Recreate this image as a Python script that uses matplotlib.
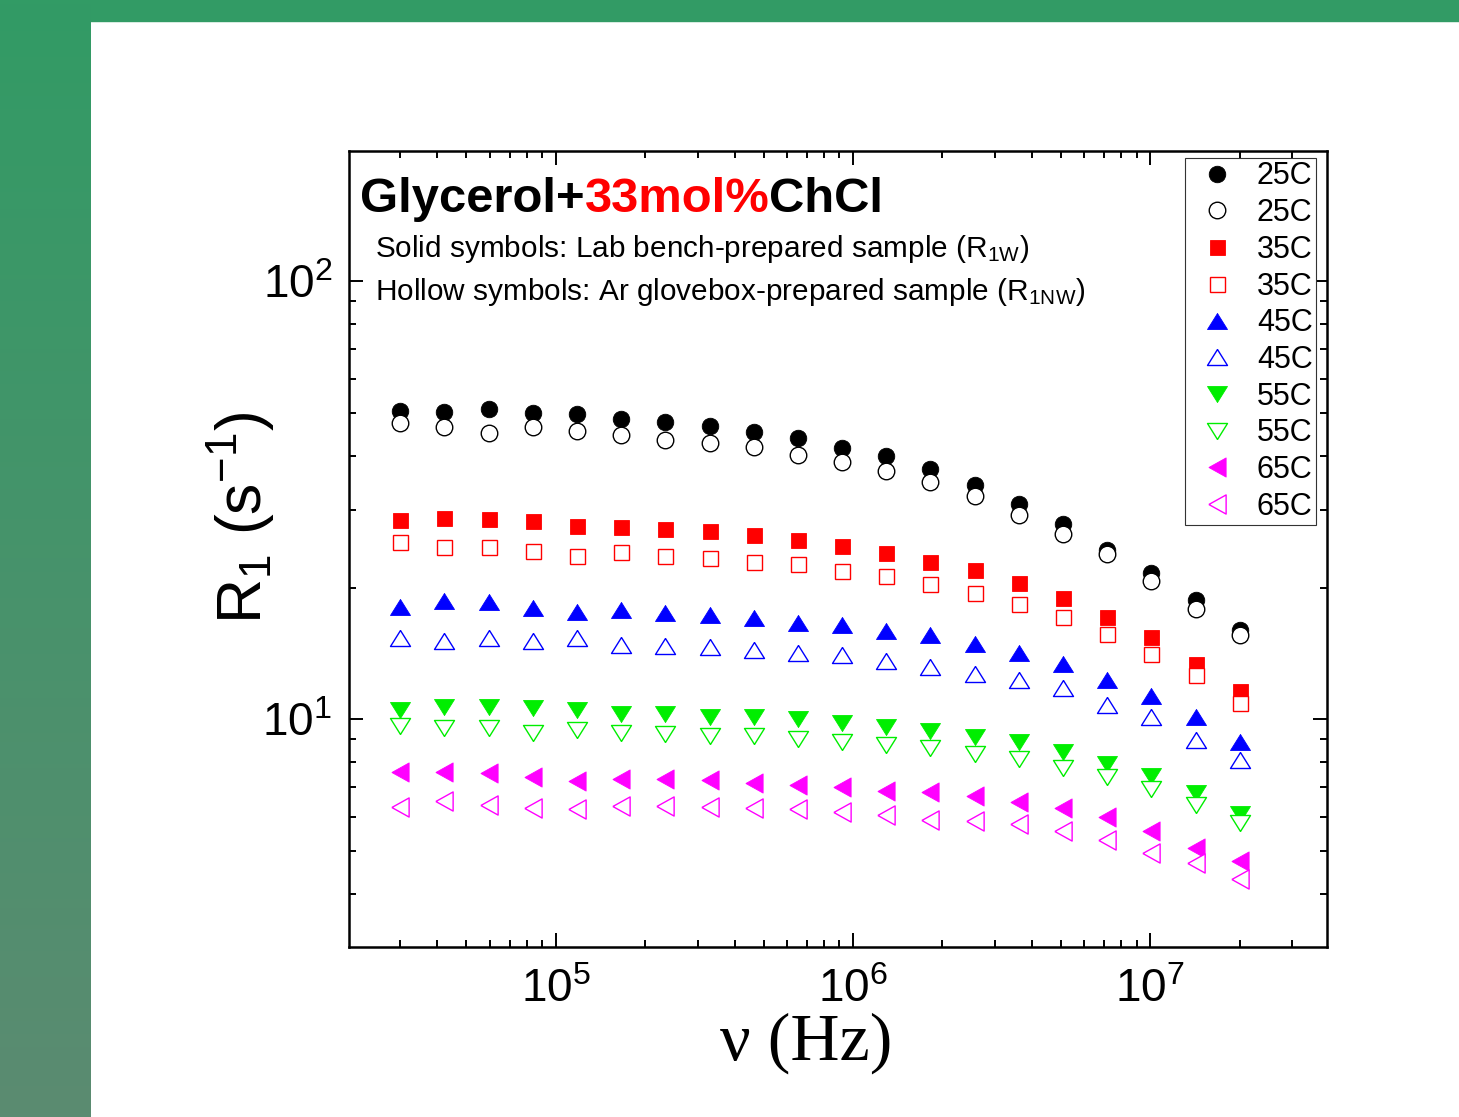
import numpy as np
import matplotlib
matplotlib.use('Agg')
import matplotlib.pyplot as plt
from matplotlib.patches import Rectangle
from matplotlib.colors import LinearSegmentedColormap
from matplotlib.ticker import NullFormatter

plt.rcParams['font.family'] = ['Liberation Sans', 'DejaVu Sans']
plt.rcParams['mathtext.default'] = 'regular'

### data (R1 in s^-1 vs frequency in Hz)
freq = [3.0e4, 4.224e4, 5.948e4, 8.375e4, 1.179e5, 1.661e5, 2.338e5, 3.292e5, 4.636e5, 6.528e5,
        9.191e5, 1.294e6, 1.822e6, 2.566e6, 3.613e6, 5.088e6, 7.164e6, 1.009e7, 1.420e7, 2.0e7]

r25_w  = [50.6, 50.4, 51.1, 50.0, 49.8, 48.6, 47.7, 46.8, 45.4, 43.9,
          41.7, 39.9, 37.2, 34.2, 31.1, 27.9, 24.3, 21.6, 18.7, 16.0]
r25_nw = [47.4, 46.5, 45.0, 46.6, 45.5, 44.5, 43.5, 42.7, 41.9, 40.1,
          38.7, 37.0, 34.9, 32.3, 29.3, 26.5, 23.8, 20.7, 17.9, 15.6]
r35_w  = [28.5, 28.9, 28.7, 28.4, 27.7, 27.5, 27.2, 26.9, 26.4, 25.7,
          24.9, 24.0, 22.9, 21.9, 20.5, 18.9, 17.1, 15.4, 13.4, 11.6]
r35_nw = [25.4, 24.8, 24.8, 24.2, 23.6, 24.1, 23.6, 23.3, 22.9, 22.6,
          21.8, 21.3, 20.4, 19.4, 18.3, 17.1, 15.7, 14.1, 12.6, 10.9]
r45_w  = [18.1, 18.6, 18.55, 18.0, 17.6, 17.8, 17.5, 17.3, 17.0, 16.6,
          16.4, 15.9, 15.6, 14.9, 14.2, 13.4, 12.3, 11.3, 10.1, 8.87]
r45_nw = [15.3, 15.1, 15.3, 15.1, 15.3, 14.8, 14.7, 14.6, 14.4, 14.2,
          14.0, 13.6, 13.2, 12.7, 12.3, 11.8, 10.8, 10.1, 8.97, 8.06]
r55_w  = [10.5, 10.7, 10.7, 10.6, 10.5, 10.3, 10.3, 10.1, 10.1, 10.0,
          9.82, 9.62, 9.39, 9.13, 8.86, 8.43, 7.92, 7.42, 6.79, 6.07]
r55_nw = [9.66, 9.55, 9.54, 9.31, 9.45, 9.33, 9.24, 9.17, 9.15, 9.04,
          8.89, 8.72, 8.59, 8.35, 8.13, 7.75, 7.39, 6.94, 6.38, 5.79]
r65_w  = [7.59, 7.57, 7.54, 7.38, 7.25, 7.31, 7.31, 7.28, 7.17, 7.09,
          7.01, 6.85, 6.82, 6.68, 6.48, 6.28, 5.99, 5.57, 5.09, 4.75]
r65_nw = [6.32, 6.50, 6.39, 6.27, 6.24, 6.35, 6.33, 6.31, 6.26, 6.23,
          6.14, 6.04, 5.90, 5.87, 5.78, 5.56, 5.31, 4.95, 4.70, 4.32]

temps  = ['25C', '35C', '45C', '55C', '65C']
colors = ['black', '#ff0000', '#0000ff', '#00ee00', '#ff00ff']

# marker shapes (triangles a bit wider than tall, like the original)
tri_up   = [(0, 0.8), (-1, -0.8), (1, -0.8), (0, 0.8)]
tri_down = [(0, -0.8), (-1, 0.8), (1, 0.8), (0, -0.8)]
tri_left = [(-0.9, 0), (0.9, 1), (0.9, -1), (-0.9, 0)]
markers = ['o', 's', tri_up, tri_down, tri_left]
msizes  = [11.9, 10.8, 14.4, 14.4, 13.8]

solid  = [r25_w, r35_w, r45_w, r55_w, r65_w]
hollow = [r25_nw, r35_nw, r45_nw, r55_nw, r65_nw]

W, H = 1459, 1117
fig = plt.figure(figsize=(W/100., H/100.), dpi=100)
fig.patch.set_facecolor('white')

# green slide frame
side = fig.add_axes([0, 0, 91./W, 1])
cmap = LinearSegmentedColormap.from_list('side', ['#329b65', '#5b8b71'])
side.imshow(np.linspace(0, 1, 256).reshape(-1, 1), cmap=cmap, aspect='auto')
side.axis('off')
fig.add_artist(Rectangle((0, 1 - 21./H), 1, 21./H, transform=fig.transFigure,
                         color='#329b65', zorder=0))

ax = fig.add_axes([349./W, 170.5/H, 978./W, 796./H])

for s, h, t, c, m, ms in zip(solid, hollow, temps, colors, markers, msizes):
    ax.plot(freq, s, ls='none', marker=m, ms=ms, color=c, mec=c, mew=0.6, label=t)
    ax.plot(freq, h, ls='none', marker=m, ms=ms, mfc='white', mec=c, mew=1.0, label=t)

ax.set_xscale('log')
ax.set_yscale('log')
ax.set_xlim(2.017e4, 3.93e7)
ax.set_ylim(3.03, 199)
ax.xaxis.set_minor_formatter(NullFormatter())
ax.yaxis.set_minor_formatter(NullFormatter())

ax.tick_params(which='both', direction='in', top=True, right=True, width=1.4)
ax.tick_params(which='major', length=10, labelsize=33)
ax.tick_params(axis='x', which='major', pad=15.5)
ax.tick_params(axis='y', which='major', pad=12)
ax.tick_params(which='minor', length=5)
for sp in ax.spines.values():
    sp.set_linewidth(1.8)

ax.set_ylabel('R$_1$ (s$^{-1}$)', fontsize=45)
ax.yaxis.set_label_coords(-0.074, 0.538)
ax.set_xlabel('\u03bd (Hz)', fontsize=49, fontfamily='Liberation Serif')
ax.xaxis.set_label_coords(0.467, -0.083)

# title made of three pieces, the middle one in red
t1 = ax.text(0.0112, 0.9231, 'Glycerol+', transform=ax.transAxes, fontsize=35.3,
             fontweight='bold', va='baseline')
t2 = ax.annotate('33mol%', xycoords=t1, xy=(1, 0), va='bottom', fontsize=35.3,
                 fontweight='bold', color='#ff0000')
t3 = ax.annotate('ChCl', xycoords=t2, xy=(1, 0), va='bottom', fontsize=35.3,
                 fontweight='bold')

ax.text(0.0266, 0.8658, 'Solid symbols: Lab bench-prepared sample (R$_{1W}$)',
        transform=ax.transAxes, fontsize=21.4, va='baseline')
ax.text(0.0266, 0.8122, 'Hollow symbols: Ar glovebox-prepared sample (R$_{1NW}$)',
        transform=ax.transAxes, fontsize=21.4, va='baseline')

leg = ax.legend(loc='upper right', bbox_to_anchor=(0.9885, 0.9902), borderaxespad=0,
                fontsize=22, handlelength=1.86, handletextpad=0.38, borderpad=0.1,
                labelspacing=0.22, fancybox=False, framealpha=1)
leg.get_frame().set_edgecolor('#333333')
leg.get_frame().set_linewidth(0.8)

fig.savefig('out.png', dpi=100)
